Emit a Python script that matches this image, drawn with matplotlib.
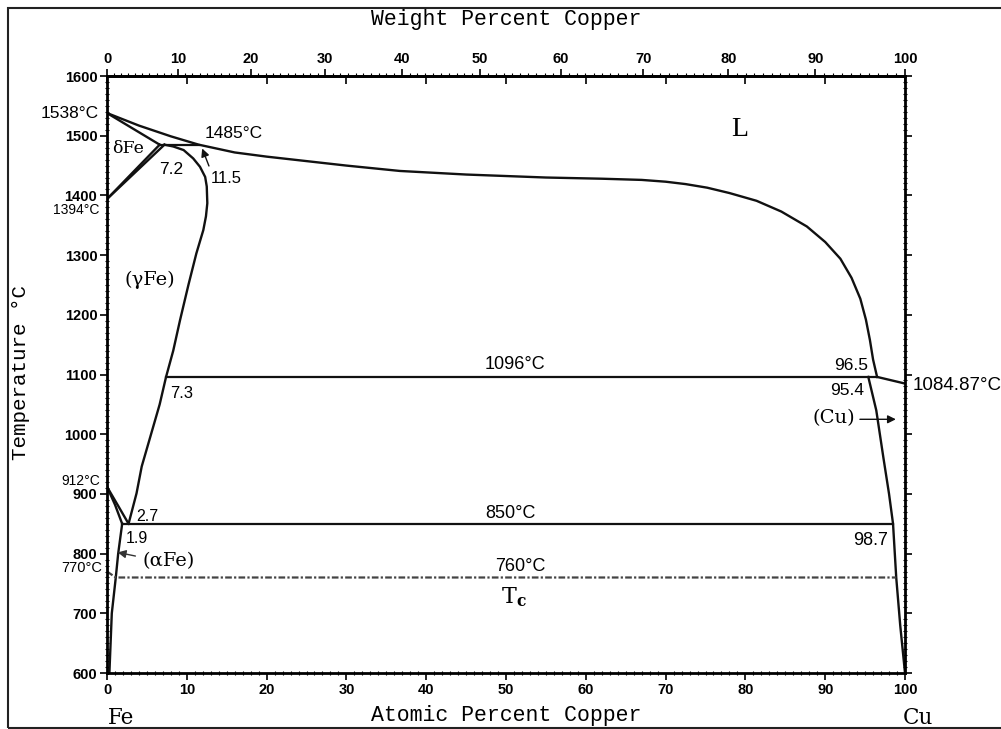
import numpy as np
import matplotlib
matplotlib.use("Agg")
import matplotlib.pyplot as plt
from matplotlib.ticker import MultipleLocator
from matplotlib.patches import Rectangle

plt.rcParams["mathtext.fontset"] = "dejavuserif"

# Fe-Cu phase diagram, x = atomic percent Cu, y = temperature (C)
M_FE = 55.845
M_CU = 63.546

liquidus_x = [0, 4, 8, 11.5, 16, 20, 24, 30, 36.7, 45, 55, 62, 67, 70, 72.5, 75.2, 78,
              81.4, 84.5, 87.7, 90, 91.9, 93.3, 94.4, 95.1, 95.6, 96.0, 96.5]
liquidus_t = [1538, 1517, 1499, 1485, 1472, 1465, 1459, 1450, 1441, 1435, 1430, 1428,
              1426, 1423, 1419, 1413, 1404, 1391, 1373, 1348, 1322, 1294, 1262, 1227,
              1192, 1158, 1125, 1096]

cu_liq_x = [96.5, 100]
cu_liq_t = [1096, 1084.87]

cu_solvus_x = [95.4, 96.4, 97.3, 98.0, 98.5, 98.9, 99.4, 100]
cu_solvus_t = [1096, 1040, 960, 900, 850, 760, 680, 600]

delta_sol_x = [0, 6.6]
delta_sol_t = [1538, 1485]
delta_a_x = [0, 6.6]
delta_a_t = [1394, 1485]
delta_b_x = [0, 7.2]
delta_b_t = [1394, 1485]

gamma_x = [7.2, 8.3, 9.6, 10.8, 11.65, 12.3, 12.5, 12.57, 12.4, 12.07, 11.2, 10.2,
           9.15, 8.3, 7.4, 6.6, 5.8, 4.35, 3.7, 2.7]
gamma_t = [1485, 1482, 1476, 1462, 1448, 1431, 1415, 1387, 1365, 1342, 1303, 1250,
           1191, 1140, 1096, 1050, 1013, 946, 901, 850]

alpha_gam_x = [0, 1.0, 1.9]
alpha_gam_t = [912, 882, 850]
gam_alpha_x = [0, 1.4, 2.7]
gam_alpha_t = [912, 880, 850]

alpha_solvus_x = [1.9, 1.4, 1.1, 0.6, 0.3]
alpha_solvus_t = [850, 800, 760, 700, 600]

iso_1485 = ([6.6, 11.5], [1485, 1485])
iso_1096 = ([7.4, 96.5], [1096, 1096])
iso_850 = ([1.9, 98.5], [850, 850])
tc_x = [0, 1.1, 98.9]
tc_t = [770, 760, 760]

y_ticks = list(range(600, 1601, 100))
x_ticks = list(range(0, 101, 10))
wt_ticks = list(range(0, 101, 10))


def at2wt(a):
    a = np.asarray(a, dtype=float)
    with np.errstate(divide="ignore", invalid="ignore"):
        return 100 * a * M_CU / (a * M_CU + (100 - a) * M_FE)


def wt2at(w):
    w = np.asarray(w, dtype=float)
    with np.errstate(divide="ignore", invalid="ignore"):
        return 100 * (w / M_CU) / (w / M_CU + (100 - w) / M_FE)


fig = plt.figure(figsize=(10.01, 7.29), dpi=100)
ax = fig.add_axes([0.1069, 0.0768, 0.7972, 0.8189])
ax.set_xlim(0, 100)
ax.set_ylim(600, 1600)

lc = "#111111"
lw = 1.7
ax.plot(liquidus_x, liquidus_t, color=lc, lw=lw)
ax.plot(cu_liq_x, cu_liq_t, color=lc, lw=lw)
ax.plot(cu_solvus_x, cu_solvus_t, color=lc, lw=lw)
ax.plot(delta_sol_x, delta_sol_t, color=lc, lw=lw)
ax.plot(delta_a_x, delta_a_t, color=lc, lw=lw)
ax.plot(delta_b_x, delta_b_t, color=lc, lw=lw)
ax.plot(gamma_x, gamma_t, color=lc, lw=lw)
ax.plot(alpha_gam_x, alpha_gam_t, color=lc, lw=lw)
ax.plot(gam_alpha_x, gam_alpha_t, color=lc, lw=lw)
ax.plot(alpha_solvus_x, alpha_solvus_t, color=lc, lw=lw)
ax.plot(*iso_1485, color=lc, lw=1.6)
ax.plot(*iso_1096, color=lc, lw=1.6)
ax.plot(*iso_850, color=lc, lw=1.6)
ax.plot(tc_x, tc_t, color="#444444", lw=1.6, linestyle=(0, (3, 1, 1, 1)))

# arrows
arr = dict(arrowstyle="-|>", color=lc, lw=1.0, mutation_scale=12)
ax.annotate("", xy=(11.8, 1483), xytext=(12.9, 1445), arrowprops=arr)
ax.annotate("", xy=(1.0, 803), xytext=(3.9, 795), arrowprops=dict(arr, color="#333333"))
ax.annotate("", xy=(99.2, 1025), xytext=(94.0, 1025), arrowprops=arr)

sans = "Liberation Sans"
serif = "DejaVu Serif"
mono = "Liberation Mono"

# temperature labels beside left axis
ax.text(-1, 1538, "1538°C", ha="right", va="center", fontsize=12.5, family=sans)
ax.text(-1, 1376, "1394°C", ha="right", va="center", fontsize=10, family=sans)
ax.text(-0.9, 922, "912°C", ha="right", va="center", fontsize=10, family=sans)
ax.text(-0.6, 776, "770°C", ha="right", va="center", fontsize=10.5, family=sans)
ax.text(101.0, 1081, "1084.87°C", ha="left", va="center", fontsize=13.5, family=sans)

# inside labels
ax.text(15.9, 1504, "1485°C", ha="center", va="center", fontsize=12.5, family=sans)
ax.text(8.0, 1443, "7.2", ha="center", va="center", fontsize=12.5, family=sans)
ax.text(14.9, 1429, "11.5", ha="center", va="center", fontsize=12, family=sans)
ax.text(9.3, 1069, "7.3", ha="center", va="center", fontsize=12, family=sans)
ax.text(5.0, 863, "2.7", ha="center", va="center", fontsize=11.5, family=sans)
ax.text(3.7, 826, "1.9", ha="center", va="center", fontsize=11.5, family=sans)
ax.text(51.1, 1116, "1096°C", ha="center", va="center", fontsize=13, family=sans)
ax.text(93.3, 1115, "96.5", ha="center", va="center", fontsize=12.5, family=sans)
ax.text(92.8, 1073, "95.4", ha="center", va="center", fontsize=12.5, family=sans)
ax.text(50.5, 868, "850°C", ha="center", va="center", fontsize=13, family=sans)
ax.text(95.7, 822, "98.7", ha="center", va="center", fontsize=13, family=sans)
ax.text(51.75, 778, "760°C", ha="center", va="center", fontsize=13, family=sans)
ax.text(51.0, 727, r"$\mathrm{T}_{\mathbf{c}}$", ha="center", va="center", fontsize=16)

ax.text(2.6, 1478, "δFe", ha="center", va="center", fontsize=12.5, family=serif)
ax.text(5.4, 1258, "(γFe)", ha="center", va="center", fontsize=14, family=serif)
ax.text(7.7, 787, "(αFe)", ha="center", va="center", fontsize=14, family=serif)
ax.text(91.1, 1027, "(Cu)", ha="center", va="center", fontsize=14, family=serif)
ax.text(79.3, 1511, "L", ha="center", va="center", fontsize=20, family="Liberation Serif")

# axes styling
for s in ax.spines.values():
    s.set_linewidth(2.0)
ax.set_xticks(x_ticks)
ax.set_yticks(y_ticks)
ax.xaxis.set_minor_locator(MultipleLocator(1))
ax.yaxis.set_minor_locator(MultipleLocator(10))
ax.tick_params(axis="both", which="major", direction="out", length=5, width=1.2,
               labelsize=10.5, pad=2)
ax.tick_params(axis="both", which="minor", direction="inout", length=3.5, width=0.8)
ax.tick_params(axis="y", which="both", right=True)
for lab in ax.get_xticklabels() + ax.get_yticklabels():
    lab.set_fontfamily(sans)
    lab.set_fontweight("bold")

top_at = ax.secondary_xaxis("top", functions=(lambda a: a, lambda a: a))
top_at.set_xticks(x_ticks)
top_at.set_xticklabels([])
top_at.tick_params(which="major", direction="in", length=6, width=1.2)
top_at.spines["top"].set_linewidth(2.0)

top_wt = ax.secondary_xaxis("top", functions=(at2wt, wt2at))
top_wt.set_xticks(wt_ticks)
top_wt.xaxis.set_minor_locator(MultipleLocator(1))
top_wt.tick_params(which="major", direction="out", length=5, width=1.2, labelsize=10.5, pad=2)
top_wt.tick_params(which="minor", direction="out", length=2.5, width=0.8)
for lab in top_wt.get_xticklabels():
    lab.set_fontfamily(sans)
    lab.set_fontweight("bold")

fig.text(506 / 1001, 1 - 19 / 729, "Weight Percent Copper", ha="center", va="center",
         fontsize=15.5, family=mono)
fig.text(506 / 1001, 1 - 716 / 729, "Atomic Percent Copper", ha="center", va="center",
         fontsize=15.5, family=mono)
fig.text(21 / 1001, 1 - 372 / 729, "Temperature °C", ha="center", va="center",
         rotation=90, fontsize=15, family=mono)
fig.text(121 / 1001, 1 - 718 / 729, "Fe", ha="center", va="center", fontsize=15.5, family=serif)
fig.text(918 / 1001, 1 - 718 / 729, "Cu", ha="center", va="center", fontsize=15.5, family=serif)

fig.add_artist(Rectangle((8 / 1001, 1 / 729), 1.0, 1 - 9 / 729, transform=fig.transFigure,
                         fill=False, lw=1.5, edgecolor="#222222"))

fig.savefig("out.png", dpi=100)
